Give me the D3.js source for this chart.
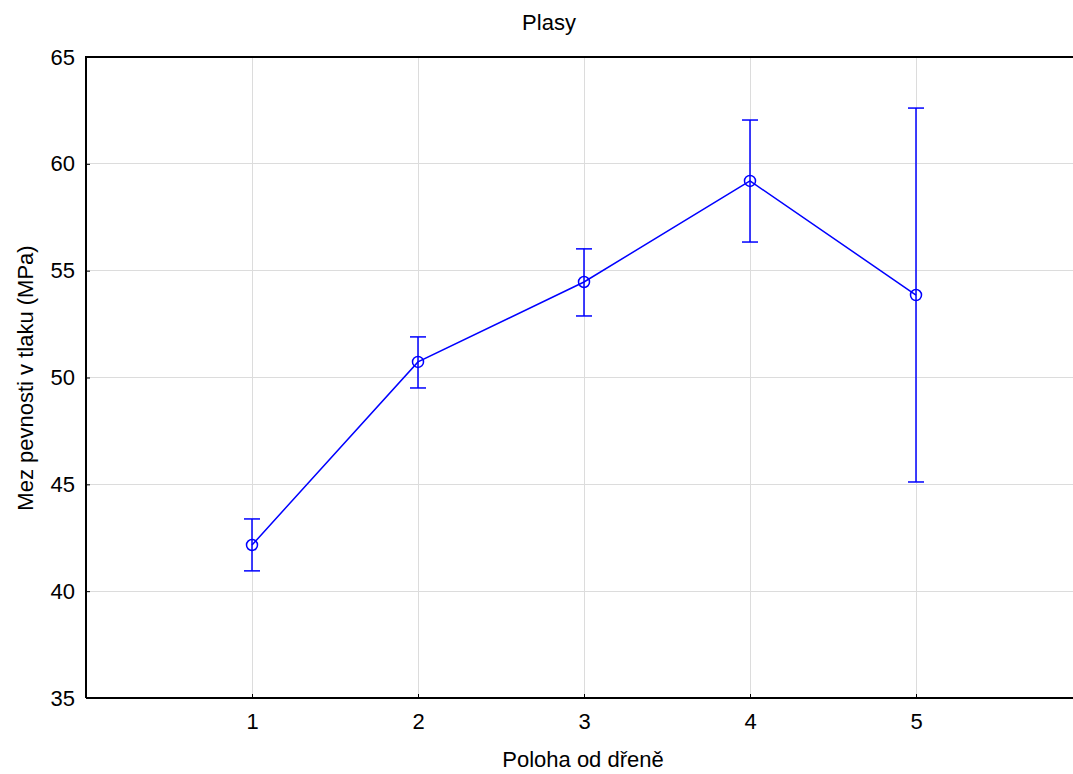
<!DOCTYPE html>
<html><head><meta charset="utf-8">
<script src="https://cdn.jsdelivr.net/npm/d3@7"></script>
<style>body{margin:0;background:#fff;} svg{display:block;font-family:"Liberation Sans",Arial,sans-serif;}</style>
</head><body>
<svg id="c" width="1073" height="774"></svg>
<script>
const categories = [1, 2, 3, 4, 5];
const means = [42.16, 50.73, 54.47, 59.20, 53.86];
const upper = [43.38, 51.90, 56.02, 62.05, 62.61];
const lower = [40.95, 49.51, 52.88, 56.34, 45.11];
const yTicks = [35, 40, 45, 50, 55, 60, 65];
const xTicks = [1, 2, 3, 4, 5];

const svg = d3.select("#c");
const L = 86, T = 57, B = 698, R = 1082;
const FS = 22;
const x = d3.scaleLinear().domain([0, 6]).range([L, R]);
const y = d3.scaleLinear().domain([35, 65]).range([B, T]);
const blue = "#0000ff";

// grid
svg.append("g").selectAll("line").data(yTicks.slice(1, -1)).join("line")
  .attr("x1", L).attr("x2", R).attr("y1", d => y(d)).attr("y2", d => y(d))
  .attr("stroke", "#dcdcdc").attr("stroke-width", 1).attr("shape-rendering", "crispEdges");
svg.append("g").selectAll("line").data(xTicks).join("line")
  .attr("y1", T).attr("y2", B).attr("x1", d => x(d)).attr("x2", d => x(d))
  .attr("stroke", "#dcdcdc").attr("stroke-width", 1).attr("shape-rendering", "crispEdges");

// axes
const ya = svg.append("g").attr("transform", `translate(${L},0)`)
  .call(d3.axisLeft(y).tickValues(yTicks).tickFormat(d3.format("d")).tickSize(-4).tickPadding(11));
const xa = svg.append("g").attr("transform", `translate(0,${B})`)
  .call(d3.axisBottom(x).tickValues(xTicks).tickFormat(d3.format("d")).tickSize(-4).tickPadding(15));
[ya, xa].forEach(a => {
  a.attr("font-size", FS).attr("font-family", "'Liberation Sans', Arial, sans-serif");
  a.select(".domain").attr("stroke", "#000").attr("stroke-width", 2);
  a.selectAll(".tick line").attr("stroke", "#000").attr("stroke-width", 1);
  a.selectAll("text").attr("fill", "#000");
});
ya.select(".domain").attr("d", `M0,${B}V${T}`);
xa.select(".domain").attr("d", `M${L},0H${R}`);
// top frame line
svg.append("line").attr("x1", L - 1).attr("x2", R).attr("y1", T).attr("y2", T)
  .attr("stroke", "#000").attr("stroke-width", 2);

// error bars
const cap = 8;
const g = svg.append("g").attr("stroke", blue).attr("stroke-width", 1.5).attr("fill", "none");
categories.forEach((c, i) => {
  g.append("line").attr("x1", x(c)).attr("x2", x(c)).attr("y1", y(upper[i])).attr("y2", y(lower[i]));
  g.append("line").attr("x1", x(c) - cap).attr("x2", x(c) + cap).attr("y1", y(upper[i])).attr("y2", y(upper[i]));
  g.append("line").attr("x1", x(c) - cap).attr("x2", x(c) + cap).attr("y1", y(lower[i])).attr("y2", y(lower[i]));
});
// line
svg.append("path").datum(categories.map((c, i) => [c, means[i]]))
  .attr("d", d3.line().x(d => x(d[0])).y(d => y(d[1])))
  .attr("stroke", blue).attr("stroke-width", 1.5).attr("fill", "none");
// markers
svg.append("g").selectAll("circle").data(categories).join("circle")
  .attr("cx", d => x(d)).attr("cy", (d, i) => y(means[i])).attr("r", 5.5)
  .attr("fill", "none").attr("stroke", blue).attr("stroke-width", 1.5);

// titles
svg.append("text").attr("x", 549).attr("y", 30).attr("text-anchor", "middle")
  .attr("font-size", FS).text("Plasy");
svg.append("text").attr("x", 583).attr("y", 767).attr("text-anchor", "middle")
  .attr("font-size", FS).text("Poloha od dřeně");
svg.append("text").attr("transform", "translate(33,378) rotate(-90)").attr("text-anchor", "middle")
  .attr("font-size", FS).text("Mez pevnosti v tlaku (MPa)");
</script>
</body></html>
